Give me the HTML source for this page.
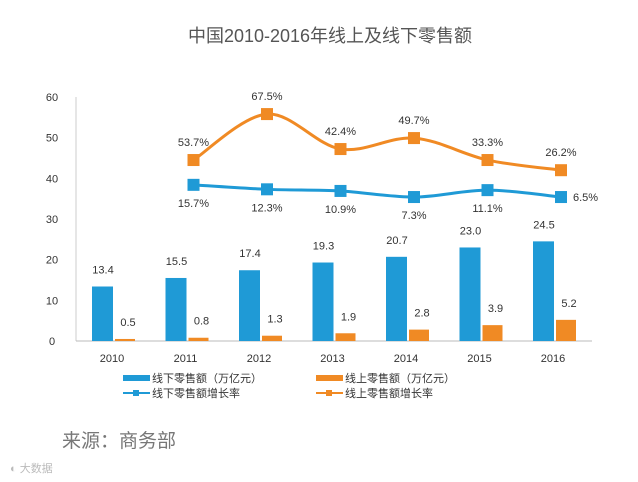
<!DOCTYPE html>
<html><head><meta charset="utf-8"><style>
body{margin:0;background:#fff;width:638px;height:482px;overflow:hidden;font-family:"Liberation Sans","Noto Sans CJK SC",sans-serif}
</style></head><body>
<svg id="c" width="638" height="482" style="position:absolute;left:0;top:0">
<text x="330" y="42" text-anchor="middle" font-size="18" fill="#555" font-family="Liberation Sans,Noto Sans CJK SC,sans-serif">中国2010-2016年线上及线下零售额</text>
<text x="62" y="447" font-size="19" fill="#777">来源：商务部</text>
<text x="10" y="472" font-size="11" fill="#bbb">◐ 大数据</text>
</svg>
<script>
const years=["2010","2011","2012","2013","2014","2015","2016"];
const offline=[13.4,15.5,17.4,19.3,20.7,23.0,24.5];
const online=[0.5,0.8,1.3,1.9,2.8,3.9,5.2];
const onlineRate=[null,53.7,67.5,42.4,49.7,33.3,26.2];
const offlineRate=[null,15.7,12.3,10.9,7.3,11.1,6.5];
// plotted heights of the rate lines on the left axis (as drawn in the source)
const onlineRatePlot=[null,44.5,55.8,47.2,49.9,44.5,42.0];
const offlineRatePlot=[null,38.4,37.3,36.9,35.4,37.1,35.4];
const yTicks=[0,10,20,30,40,50,60];
const svg=document.getElementById('c');const NS='http://www.w3.org/2000/svg';
const y0=341,y60=97;const Y=v=>y0-(v/60)*(y0-y60);
const X=i=>112+i*73.5;
function mk(t,a){const e=document.createElementNS(NS,t);for(const k in a)e.setAttribute(k,a[k]);svg.appendChild(e);return e;}
function tx(x,y,s,o){const e=mk('text',Object.assign({x:x,y:y,'font-size':11,fill:'#333','text-anchor':'middle'},o||{}));e.textContent=s;return e;}
const ax=mk('line',{x1:76,y1:97,x2:76,y2:341,stroke:'#ccc'});


const bx=mk('line',{x1:76,y1:341,x2:592,y2:341,stroke:'#bbb'});


yTicks.forEach(v=>{const t=tx(52,Y(v)+4,String(v),{'text-anchor':'middle'});

});
years.forEach((yr,i)=>{
const t=tx(X(i),362,yr);


const b=mk('rect',{x:X(i)-20,y:Y(offline[i]),width:21,height:y0-Y(offline[i]),fill:'#1f9ad6'});


const l=tx(X(i)-9,Y(offline[i])-13,offline[i].toFixed(1));


const o=mk('rect',{x:X(i)+3,y:Y(online[i]),width:20,height:y0-Y(online[i]),fill:'#f08a24'});


const l2=tx(X(i)+16,Y(online[i])-13,online[i].toFixed(1));


});
function smooth(pts){let d='M'+pts[0][0]+','+pts[0][1];for(let i=0;i<pts.length-1;i++){const p0=pts[i-1]||pts[i],p1=pts[i],p2=pts[i+1],p3=pts[i+2]||p2;
d+=' C'+(p1[0]+(p2[0]-p0[0])/6)+','+(p1[1]+(p2[1]-p0[1])/6)+' '+(p2[0]-(p3[0]-p1[0])/6)+','+(p2[1]-(p3[1]-p1[1])/6)+' '+p2[0]+','+p2[1];}return d;}
function series(plot,rates,col,name,below){
const pts=[];plot.forEach((v,i)=>{if(v!=null)pts.push([X(i)+8,Y(v),i]);});
const p=mk('path',{d:smooth(pts),fill:'none',stroke:col,'stroke-width':3});


pts.forEach(pt=>{const m=mk('rect',{x:pt[0]-6,y:pt[1]-6,width:12,height:12,fill:col});


const i=pt[2];let lx=pt[0],ly=below?pt[1]+22:pt[1]-14,an='middle';
if(below&&i==6){lx=pt[0]+12;ly=pt[1]+4;an='start';}
const t=tx(lx,ly,rates[i].toFixed(1)+'%',{'text-anchor':an});

});
}
series(onlineRatePlot,onlineRate,'#f08a24','online-rate',false);
series(offlineRatePlot,offlineRate,'#1f9ad6','offline-rate',true);
const leg=[[123,378,'#1f9ad6','线下零售额（万亿元）',0],[316,378,'#f08a24','线上零售额（万亿元）',0],[123,393,'#1f9ad6','线下零售额增长率',1],[316,393,'#f08a24','线上零售额增长率',1]];
leg.forEach(g=>{
if(g[4]){mk('line',{x1:g[0],y1:g[1],x2:g[0]+27,y2:g[1],stroke:g[2],'stroke-width':2});mk('rect',{x:g[0]+10,y:g[1]-3,width:6,height:6,fill:g[2]});}
else mk('rect',{x:g[0],y:g[1]-3,width:27,height:6,fill:g[2]});
const t=tx(g[0]+29,g[1]+4,g[3],{'text-anchor':'start','font-size':11});

});
</script>
</body></html>
